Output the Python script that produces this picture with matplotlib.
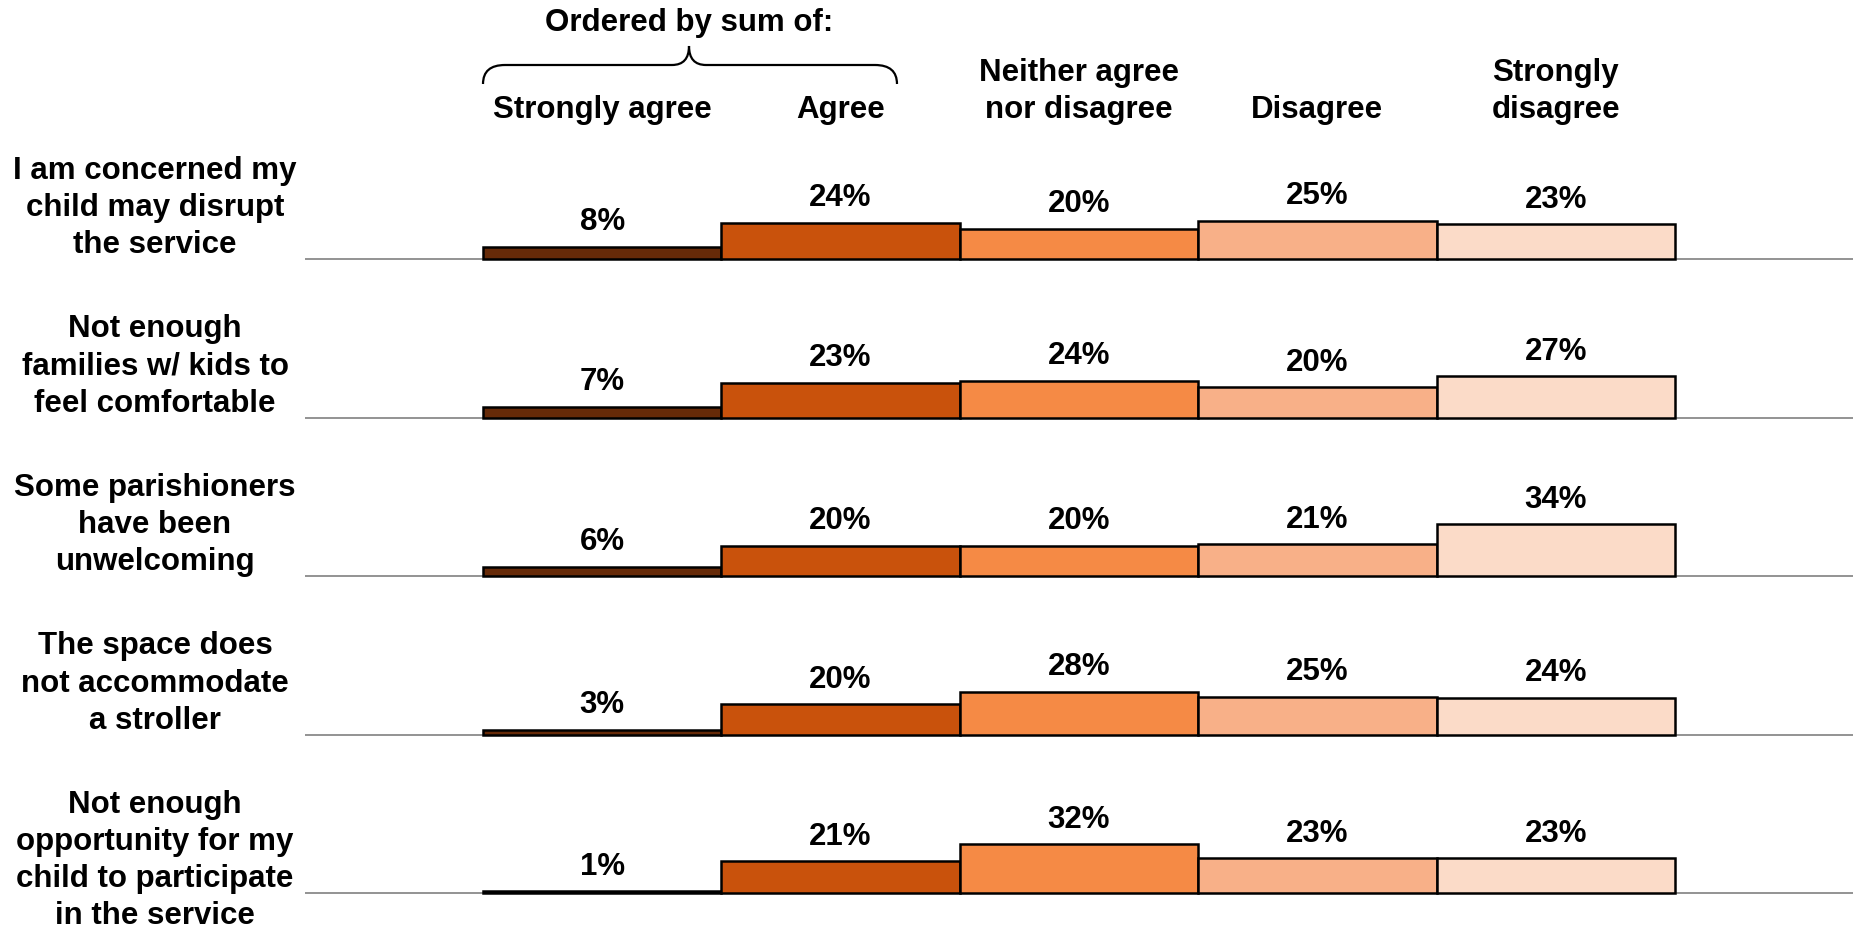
import numpy as np
import matplotlib.pyplot as plt
from matplotlib.path import Path
from matplotlib.patches import PathPatch

plt.rcParams['font.family'] = ['Liberation Sans', 'DejaVu Sans']
plt.rcParams['font.weight'] = 'bold'

categories = ["Strongly agree", "Agree", "Neither agree\nnor disagree", "Disagree", "Strongly\ndisagree"]
items = [
    "I am concerned my\nchild may disrupt\nthe service",
    "Not enough\nfamilies w/ kids to\nfeel comfortable",
    "Some parishioners\nhave been\nunwelcoming",
    "The space does\nnot accommodate\na stroller",
    "Not enough\nopportunity for my\nchild to participate\nin the service",
]
values = [
    [8, 24, 20, 25, 23],
    [7, 23, 24, 20, 27],
    [6, 20, 20, 21, 34],
    [3, 20, 28, 25, 24],
    [1, 21, 32, 23, 23],
]
colors = ["#662A08", "#C9520C", "#F58A45", "#F8B088", "#FBDBC8"]

W, H = 1853, 928
fig = plt.figure(figsize=(W / 100, H / 100), dpi=100)
ax = fig.add_axes([0, 0, 1, 1])

# layout: one x unit = one category bar, y in percent units
px_x = 238.4
x0 = 483
px_y = 1.52
top_base = 260
row_gap = 158.5 / px_y
ax.set_xlim(-x0 / px_x, (W - x0) / px_x)
ax.set_ylim(-(H - top_base) / px_y, top_base / px_y)
ax.axis("off")

fs = 22.5
ls = 1.31

x = np.arange(len(categories))
for i, (item, vals) in enumerate(zip(items, values)):
    base = -i * row_gap
    ax.hlines(base, (305 - x0) / px_x, (W - x0) / px_x, color="#808080", lw=1.2, zorder=1)
    ax.bar(x, vals, width=1, bottom=base, align="edge", color=colors,
           edgecolor="black", linewidth=1.8, zorder=2)
    for xi, v in zip(x, vals):
        ax.text(xi + 0.5, base + v + 16.8, f"{v}%", ha="center", va="center",
                fontsize=fs, fontweight="bold")
    ax.text((155 - x0) / px_x, base + 104 / px_y, item, ha="center", va="top",
            multialignment="center", fontsize=fs, fontweight="bold", linespacing=ls)

# column headers
for xi, cat in zip(x, categories):
    ax.text(xi + 0.5, (top_base - 118) / px_y, cat, ha="center", va="baseline",
            multialignment="center", fontsize=fs, fontweight="bold", linespacing=ls)

ax.text((689 - x0) / px_x, (top_base - 23) / px_y, "Ordered by sum of:", ha="center",
        va="center", fontsize=fs, fontweight="bold")

# brace over the first two columns
def fp(px, py):
    return (px / W, 1 - py / H)

verts = [fp(483, 85), fp(483, 66), fp(505, 66), fp(672, 66), fp(689, 66), fp(689, 47),
         fp(689, 66), fp(706, 66), fp(875, 66), fp(897, 66), fp(897, 85)]
codes = [Path.MOVETO, Path.CURVE3, Path.CURVE3, Path.LINETO, Path.CURVE3, Path.CURVE3,
         Path.CURVE3, Path.CURVE3, Path.LINETO, Path.CURVE3, Path.CURVE3]
brace = PathPatch(Path(verts, codes), transform=fig.transFigure, fill=False,
                  edgecolor="black", lw=1.6)
fig.patches.append(brace)

fig.savefig("out.png", dpi=100)
